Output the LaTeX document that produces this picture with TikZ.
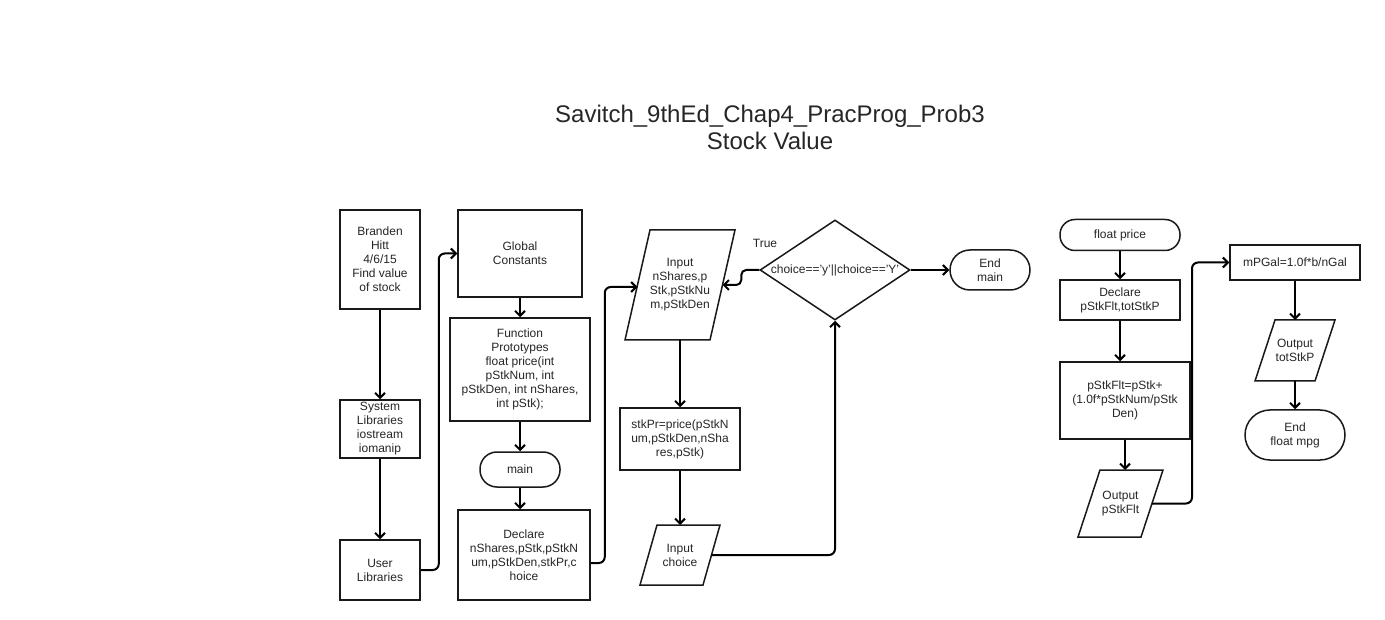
\documentclass[tikz,border=0pt]{standalone}
\usepackage{fontspec}
\setmainfont{Liberation Sans}
\usetikzlibrary{arrows.meta,shapes.geometric}
% slanted input/output outline around a node: #1 node name, #2 slant offset
\newcommand\ioframe[2]{%
  \draw[draw=black!90, line width=1.5pt]
    ([xshift=#2]#1.north west) -- (#1.north east)
    -- ([xshift=-#2]#1.south east) -- (#1.south west) -- cycle;}
\begin{document}
\begin{tikzpicture}[x=1pt,y=-1pt,
  every node/.style={font=\fontsize{12}{14}\selectfont, text=black!85, align=center, inner sep=2pt},
  box/.style={draw=black!90, line width=1.5pt, rectangle},
  term/.style={draw=black!90, line width=1.5pt, rectangle, rounded corners=#1},
  io/.style={rectangle, outer sep=0pt},
  flow/.style={draw=black, line width=2pt, rounded corners=6pt,
    -{Straight Barb[length=5pt,width=10pt]}},
]
\fill[white] (0,0) rectangle (1385,620);
\useasboundingbox (0,0) rectangle (1385,620);

% title
\node[font=\fontsize{24}{27}\selectfont] (title) at (770,127.5)
  {Savitch\_9thEd\_Chap4\_PracProg\_Prob3\\Stock Value};

% header and libraries
\node[box, minimum width=80pt, minimum height=99pt] (hdr) at (380,259.5)
  {Branden\\Hitt\\4/6/15\\Find value\\of stock};
\node[box, minimum width=80pt, minimum height=58pt] (sys) at (380,429)
  {System\\Libraries\\iostream\\iomanip};
\node[box, minimum width=80pt, minimum height=60pt] (usr) at (380,570)
  {User\\Libraries};

% globals, prototypes, main
\node[box, minimum width=124pt, minimum height=87pt] (glob) at (520,253.5)
  {Global\\Constants};
\node[box, minimum width=140pt, minimum height=103pt] (proto) at (520,369.5)
  {Function\\Prototypes\\float price(int\\pStkNum, int\\pStkDen, int nShares,\\int pStk);};
\node[term=17pt, minimum width=80pt, minimum height=35pt] (main) at (520,469.5) {main};
\node[box, minimum width=132pt, minimum height=90pt] (decl) at (524,555)
  {Declare\\nShares,pStk,pStkN\\um,pStkDen,stkPr,c\\hoice};

% main loop
\node[io, minimum width=110pt, minimum height=110pt] (inp) at (680,285)
  {Input\\nShares,p\\Stk,pStkNu\\m,pStkDen};
\ioframe{inp}{25pt}
\node[box, minimum width=120pt, minimum height=62pt] (calc) at (680,439)
  {stkPr=price(pStkN\\um,pStkDen,nSha\\res,pStk)};
\node[io, minimum width=80pt, minimum height=60pt] (ch) at (680,555)
  {Input\\choice};
\ioframe{ch}{17pt}
\node[draw=black!90, line width=1.5pt, diamond, shape aspect=1.5, inner sep=0pt,
  minimum width=150pt, minimum height=100pt] (dec) at (835,270) {choice=='y'||choice=='Y'};
\node (true) at (765,243) {True};
\node[term=20pt, minimum width=80pt, minimum height=40pt] (endm) at (990,270) {End\\main};

% function price
\node[term=15pt, minimum width=120pt, minimum height=31pt] (fp) at (1120,235) {float price};
\node[box, minimum width=120pt, minimum height=40pt] (fdecl) at (1120,300)
  {Declare\\pStkFlt,totStkP};
\node[box, minimum width=130pt, minimum height=77pt] (fcalc) at (1125,400.5)
  {pStkFlt=pStk+\\(1.0f*pStkNum/pStk\\Den)};
\node[io, minimum width=85pt, minimum height=67pt] (fout) at (1120.5,503.5)
  {Output\\pStkFlt};
\ioframe{fout}{22pt}
\node[box, minimum width=130pt, minimum height=35pt] (mpg) at (1295,262.5)
  {mPGal=1.0f*b/nGal};
\node[io, minimum width=80pt, minimum height=61pt] (tout) at (1295,350.5)
  {Output\\totStkP};
\ioframe{tout}{20pt}
\node[term=25pt, minimum width=100pt, minimum height=50pt] (endf) at (1295,435)
  {End\\float mpg};

% connectors
\draw[flow] (hdr.south) -- (sys.north);
\draw[flow] (sys.south) -- (usr.north);
\draw[flow] (usr.east) -- ++(18,0) |- (glob.west);
\draw[flow] (glob.south) -- (proto.north);
\draw[flow] (proto.south) -- (main.north);
\draw[flow] (main.south) -- (main.south |- decl.north);
\draw[flow] ([yshift=-8pt]decl.east) -- ++(14,0) |- ([xshift=12.5pt,yshift=-2pt]inp.west);
\draw[flow] (inp.south) -- (calc.north);
\draw[flow] (calc.south) -- (ch.north);
\draw[flow] ([xshift=-8.5pt]ch.east) -| (dec.south);
\draw[flow, rounded corners=5pt] (dec.west) -- ++(-18,0) |- ([xshift=-12.5pt]inp.east);
\draw[flow] (dec.east) -- (endm.west);

\draw[flow] (fp.south) -- (fdecl.north);
\draw[flow] (fdecl.south) -- (fdecl.south |- fcalc.north);
\draw[flow] (fcalc.south) -- (fcalc.south |- fout.north);
\draw[flow] ([xshift=-11pt]fout.east) -- ++(40,0) |- (mpg.west);
\draw[flow] (mpg.south) -- (tout.north);
\draw[flow] (tout.south) -- (endf.north);
\end{tikzpicture}
\end{document}
